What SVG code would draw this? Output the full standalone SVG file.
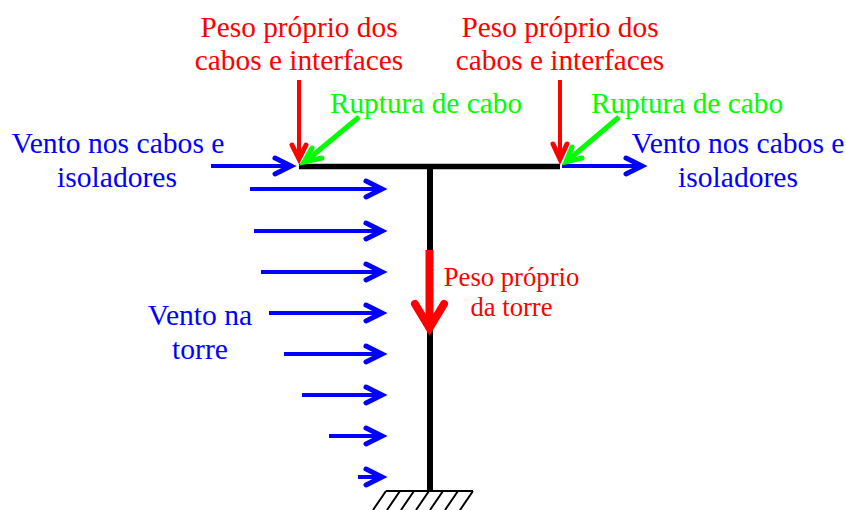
<svg xmlns="http://www.w3.org/2000/svg" width="846" height="510" viewBox="0 0 846 510">
<style>
text{font-family:"Liberation Serif","Times New Roman",serif;text-anchor:middle;font-size:29.33px}
.r{fill:#f00}.g{fill:#0f0}.b{fill:#00f;font-size:29.6px}
.r.sm{font-size:26.67px}
.l{fill:none;stroke-width:4}
.h{fill:none;stroke-width:5;stroke-linecap:round;stroke-linejoin:miter;stroke-miterlimit:6}
.sb{stroke:#00f}.sr{stroke:#f00}.sg{stroke:#0f0}
.k{stroke:#000;stroke-width:2;fill:none}
</style>
<rect width="846" height="510" fill="#fff"/>
<g id="tower"><path d="M299 166.5H560" stroke="#000" stroke-width="5.5" fill="none"/><path d="M430 166V491" stroke="#000" stroke-width="6" fill="none"/></g>
<g id="support"><path class="k" d="M386 491H473M386 491L373 510M400 491L387 510M414 491L401 510M429 491L416 510M443 491L430 510M458 491L445 510M473 491L460 510"/></g>
<g id="connectors">
<path class="l sb" d="M211 166H291"/><path class="h sb" d="M275 158L291 166L275 174"/>
<path class="l sb" d="M562 166H642"/><path class="h sb" d="M626 158L642 166L626 174"/>
<path class="l sb" d="M250 189H382"/><path class="h sb" d="M366 181L382 189L366 197"/>
<path class="l sb" d="M254 231H382"/><path class="h sb" d="M366 223L382 231L366 239"/>
<path class="l sb" d="M261 272H382"/><path class="h sb" d="M366 264L382 272L366 280"/>
<path class="l sb" d="M269 313H382"/><path class="h sb" d="M366 305L382 313L366 321"/>
<path class="l sb" d="M284 354H382"/><path class="h sb" d="M366 346L382 354L366 362"/>
<path class="l sb" d="M302 395H382"/><path class="h sb" d="M366 387L382 395L366 403"/>
<path class="l sb" d="M329 436H382"/><path class="h sb" d="M366 428L382 436L366 444"/>
<path class="l sb" d="M358 477H382"/><path class="h sb" d="M366 469L382 477L366 485"/>
<path class="l sr" d="M299 80V158"/><path class="h sr" d="M292 145L299 159L306 145"/>
<path class="l sr" d="M560 80V158"/><path class="h sr" d="M553 144L560 159L567 144"/>
<path class="l sg" style="stroke-width:5" d="M359 117L306 161"/><path class="h sg" d="M312 148L304 162L322 158"/>
<path class="l sg" style="stroke-width:5" d="M619 117L567 161"/><path class="h sg" d="M572 147L566 162L582 158"/>
<path d="M429.5 250V328" stroke="#f00" stroke-width="8" fill="none"/>
<path class="h sr" style="stroke-width:8" d="M415 304L429.5 328L444 304"/>
</g>
<g id="n1"><text class="r" x="299" y="37">Peso próprio dos</text><text class="r" x="299" y="70">cabos e interfaces</text></g>
<g id="n2"><text class="r" x="560" y="37">Peso próprio dos</text><text class="r" x="560" y="70">cabos e interfaces</text></g>
<g id="n3"><text class="g" x="426" y="113">Ruptura de cabo</text></g>
<g id="n4"><text class="g" x="687" y="113">Ruptura de cabo</text></g>
<g id="n5"><text class="b" x="118" y="153">Vento nos cabos e</text><text class="b" x="117" y="187">isoladores</text></g>
<g id="n6"><text class="b" x="738" y="153">Vento nos cabos e</text><text class="b" x="738" y="187">isoladores</text></g>
<g id="n7"><text class="b" x="200" y="325">Vento na</text><text class="b" x="200" y="359">torre</text></g>
<g id="n8"><text class="r sm" x="511.5" y="286">Peso próprio</text><text class="r sm" x="511.5" y="316">da torre</text></g>
</svg>
